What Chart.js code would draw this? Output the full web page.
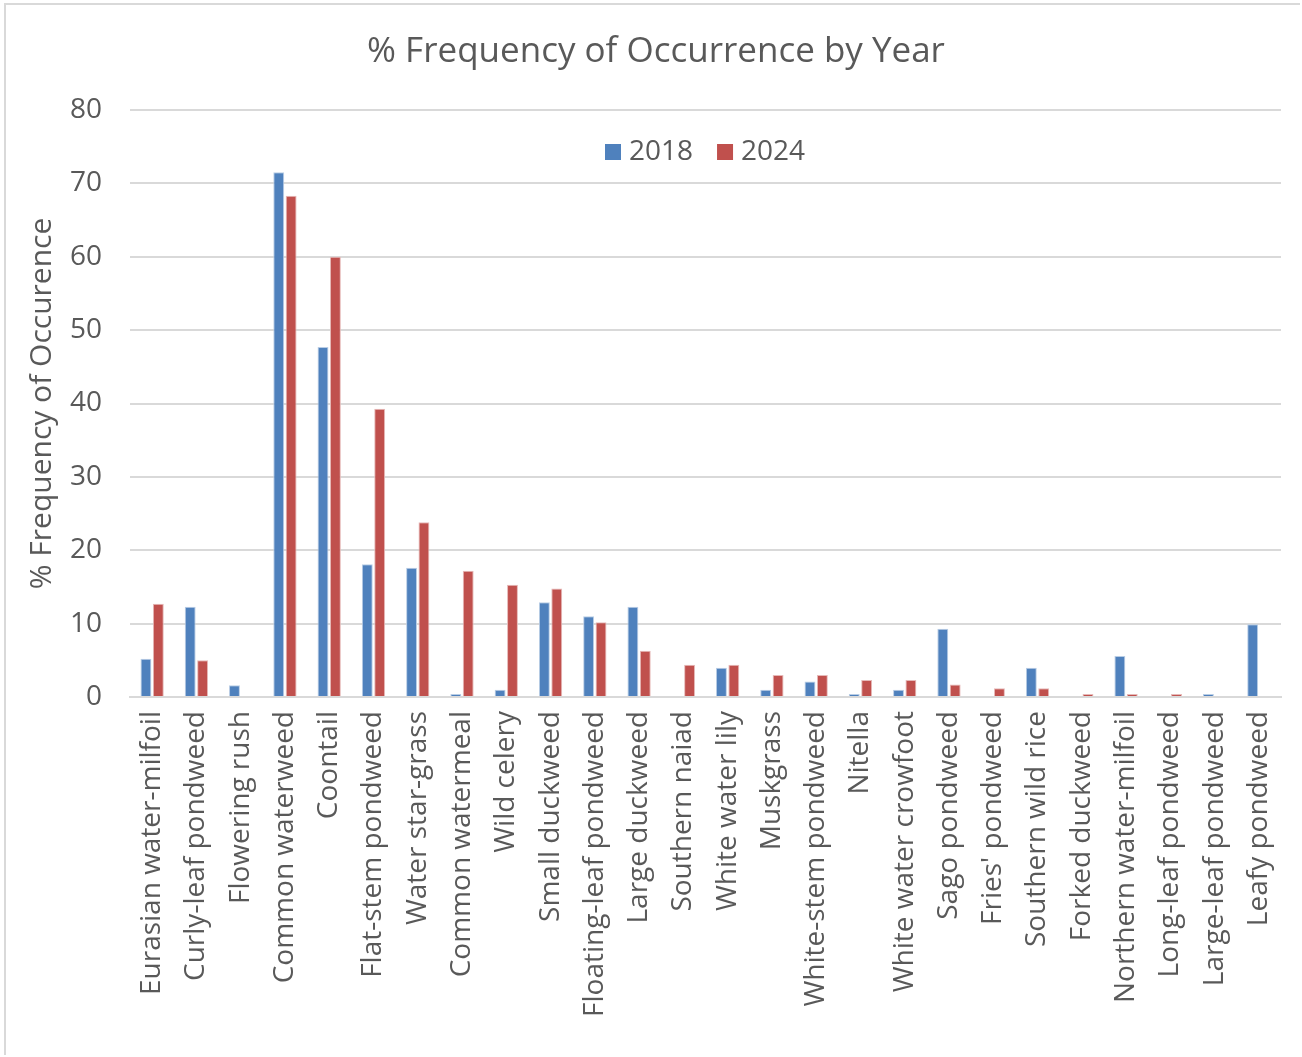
<!DOCTYPE html>
<html>
<head>
<meta charset="utf-8">
<script src="https://cdn.jsdelivr.net/npm/chart.js@4"></script>
<style>
  html, body { margin: 0; padding: 0; background: #fff; }
  #wrap { position: absolute; left: 0; top: 0; width: 1302px; height: 1057px; }
  #frame { position: absolute; left: 4px; top: 3px; width: 1296px; height: 1052px; border-left: 2px solid #d9d9d9; border-top: 2px solid #d9d9d9; box-sizing: border-box; pointer-events: none; }
</style>
</head>
<body>
<div id="wrap"><canvas id="c" width="1302" height="1057"></canvas><div id="frame"></div></div>
<script>
const categories = ["Eurasian water-milfoil","Curly-leaf pondweed","Flowering rush","Common waterweed","Coontail","Flat-stem pondweed","Water star-grass","Common watermeal","Wild celery","Small duckweed","Floating-leaf pondweed","Large duckweed","Southern naiad","White water lily","Muskgrass","White-stem pondweed","Nitella","White water crowfoot","Sago pondweed","Fries' pondweed","Southern wild rice","Forked duckweed","Northern water-milfoil","Long-leaf pondweed","Large-leaf pondweed","Leafy pondweed"];
const values2018 = [5.2,12.3,1.6,71.5,47.7,18.1,17.6,0.4,1.0,12.9,11.0,12.3,0,4.0,1.0,2.1,0.4,1.0,9.3,0,4.0,0,5.6,0,0.4,9.9];
const values2024 = [12.7,5.0,0,68.3,60.0,39.3,23.8,17.2,15.3,14.8,10.2,6.3,4.4,4.4,3.0,3.0,2.3,2.3,1.7,1.2,1.2,0.4,0.4,0.4,0,0];
const seriesLabels = ["2018","2024"];
const yTicks = [0,10,20,30,40,50,60,70,80];
const chartTitle = "% Frequency of Occurrence by Year";

const FONT = "'Open Sans', 'Liberation Sans', sans-serif";
const TXT = "#595959";

const overlayPlugin = {
  id: 'overlay',
  afterDraw(chart) {
    const ctx = chart.ctx;
    ctx.save();
    // title
    ctx.font = "35px " + FONT;
    ctx.fillStyle = TXT;
    ctx.textAlign = "center";
    ctx.textBaseline = "middle";
    ctx.fillText(chartTitle, 656, 52);
    // legend
    ctx.font = "28px " + FONT;
    ctx.textAlign = "left";
    const y = 152;
    let x = 605;
    chart.data.datasets.forEach((ds) => {
      ctx.fillStyle = ds.backgroundColor;
      ctx.fillRect(x, y - 8, 16, 16);
      ctx.fillStyle = TXT;
      ctx.fillText(ds.label, x + 24, y);
      x += 24 + ctx.measureText(ds.label).width + 24;
    });
    ctx.restore();
  }
};

new Chart(document.getElementById('c'), {
  type: 'bar',
  data: {
    labels: categories,
    datasets: [
      { label: seriesLabels[0], data: values2018, backgroundColor: '#4F81BD', borderColor: '#B9CDE5', borderWidth: 1, categoryPercentage: 0.56, barPercentage: 0.88 },
      { label: seriesLabels[1], data: values2024, backgroundColor: '#C0504D', borderColor: '#E6B9B8', borderWidth: 1, categoryPercentage: 0.56, barPercentage: 0.88 }
    ]
  },
  options: {
    responsive: false,
    animation: false,
    layout: { padding: { left: 0, right: 21, top: 110, bottom: 0 } },
    plugins: {
      legend: { display: false },
      tooltip: { enabled: false },
      title: { display: false }
    },
    scales: {
      x: {
        grid: { display: false, drawTicks: false },
        border: { display: true, color: '#d9d9d9', width: 2 },
        ticks: { color: TXT, font: { family: FONT, size: 28 }, minRotation: 90, maxRotation: 90, autoSkip: false, padding: 14 },
        afterFit(scale) { scale.height = 360; scale.paddingRight = 0; }
      },
      y: {
        min: 0, max: 80,
        afterBuildTicks(scale) { scale.ticks = yTicks.map(v => ({ value: v })); },
        grid: { color: '#d9d9d9', lineWidth: 2, drawTicks: false },
        border: { display: false },
        ticks: { color: TXT, font: { family: FONT, size: 28 }, padding: 28 },
        title: { display: true, text: '% Frequency of Occurence', color: TXT, font: { family: FONT, size: 30 }, padding: { top: 24, bottom: 0 } },
        afterFit(scale) { scale.width = 130; }
      }
    }
  },
  plugins: [overlayPlugin]
});
</script>
</body>
</html>
